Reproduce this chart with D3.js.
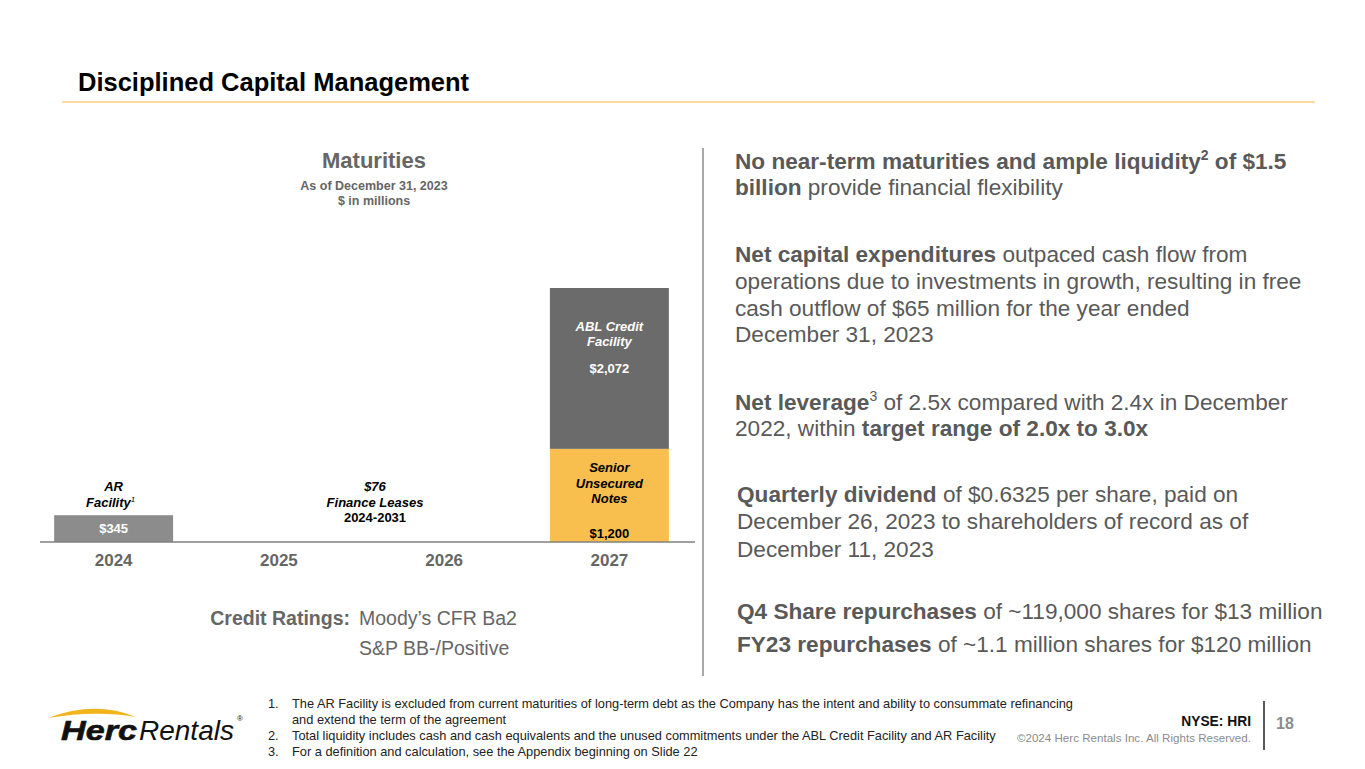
<!DOCTYPE html>
<html><head><meta charset="utf-8">
<script src="https://cdn.jsdelivr.net/npm/d3@7/dist/d3.min.js"></script>
<style>
html,body{margin:0;padding:0;background:#fff;}
svg{display:block;}
.n{font-family:"Liberation Sans Narrow","Arial Narrow","Liberation Sans",Arial,sans-serif;}
.a{font-family:"Liberation Sans",Arial,Helvetica,sans-serif;}
</style></head>
<body>
<svg id="c" width="1365" height="769"></svg>
<script>
// ---- data ----
const years = ["2024", "2025", "2026", "2027"];
const arFacility = [345, 0, 0, 0];
const seniorNotes = [0, 0, 0, 1200];
const ablCredit = [0, 0, 0, 2072];
const financeLeasesTotal = 76;
const seriesKeys = ["ar", "senior", "abl"];
const seriesColors = {ar: "#8c8c8c", senior: "#f8bf4f", abl: "#6b6b6b"};

const rows = years.map((y, i) => ({year: y, ar: arFacility[i], senior: seniorNotes[i], abl: ablCredit[i]}));

const svg = d3.select("#c");

// ---- header ----
svg.append("text").attr("class","a").attr("x",78).attr("y",91)
  .attr("font-size",25.5).attr("font-weight","bold").attr("fill","#000")
  .text("Disciplined Capital Management");
svg.append("line").attr("x1",62).attr("x2",1315).attr("y1",102).attr("y2",102)
  .attr("stroke","#f5b942").attr("stroke-width",1.2);

// ---- chart ----
const x = d3.scaleBand().domain(years).range([31, 692]).paddingInner(0.28).paddingOuter(0.14);
const y = d3.scaleLinear().domain([0, 3272]).range([542, 288]);

const stack = d3.stack().keys(seriesKeys)(rows);
const g = svg.append("g");
stack.forEach(layer => {
  g.selectAll(null).data(layer.filter(d => d[1] - d[0] > 0)).enter().append("rect")
    .attr("x", d => x(d.data.year))
    .attr("width", x.bandwidth())
    .attr("y", d => y(d[1]))
    .attr("height", d => y(d[0]) - y(d[1]))
    .attr("fill", seriesColors[layer.key]);
});

// axis
const axis = svg.append("g").attr("transform","translate(0,542)")
  .call(d3.axisBottom(x).tickSize(0).tickPadding(12));
axis.select(".domain").attr("d","M40,0H695").attr("stroke","#808080").attr("stroke-width",1.5);
axis.selectAll(".tick text").attr("class","n").attr("font-size",17).attr("font-weight","bold").attr("fill","#666");

// chart titles
const cx = 374;
svg.append("text").attr("class","n").attr("x",cx).attr("y",168).attr("text-anchor","middle")
  .attr("font-size",22).attr("font-weight","bold").attr("fill","#666").text("Maturities");
svg.append("text").attr("class","n").attr("x",cx).attr("y",190).attr("text-anchor","middle")
  .attr("font-size",12.5).attr("font-weight","bold").attr("fill","#666").text("As of December 31, 2023");
svg.append("text").attr("class","n").attr("x",cx).attr("y",205).attr("text-anchor","middle")
  .attr("font-size",12.5).attr("font-weight","bold").attr("fill","#666").text("$ in millions");

function label(xp, yp, txt, opts) {
  return svg.append("text").attr("class","n").attr("x",xp).attr("y",yp).attr("text-anchor","middle")
    .attr("font-size",13).attr("font-weight","bold").attr("fill",opts.fill||"#000")
    .attr("font-style",opts.italic?"italic":"normal").text(txt);
}
const fmt = v => "$" + d3.format(",")(v);
const cAR = x("2024") + x.bandwidth()/2;
const c27 = x("2027") + x.bandwidth()/2;
const cLease = 375;

label(cAR, y(arFacility[0]/2) + 4, fmt(arFacility[0]), {fill:"#fff"});
label(cAR, y(arFacility[0]) - 24, "AR", {italic:true});
const fac = label(cAR - 3, y(arFacility[0]) - 8, "Facility", {italic:true});
fac.append("tspan").attr("font-size",8).attr("dy",-5).attr("font-weight","normal").text("1");

label(cLease, 491, fmt(financeLeasesTotal), {italic:true});
label(cLease, 507, "Finance Leases", {italic:true});
label(cLease, 522, "2024-2031", {});

const sTop = y(seniorNotes[3]);
label(c27, sTop + 23, "Senior", {italic:true});
label(c27, sTop + 39, "Unsecured", {italic:true});
label(c27, sTop + 54, "Notes", {italic:true});
label(c27, 538, fmt(seniorNotes[3]), {});

const aTop = y(seniorNotes[3] + ablCredit[3]);
label(c27, aTop + 43, "ABL Credit", {italic:true, fill:"#fff"});
label(c27, aTop + 58, "Facility", {italic:true, fill:"#fff"});
label(c27, aTop + 85, fmt(ablCredit[3]), {fill:"#fff"});

// credit ratings
svg.append("text").attr("class","a").attr("x",350).attr("y",625).attr("text-anchor","end")
  .attr("font-size",19.5).attr("font-weight","bold").attr("fill","#666").text("Credit Ratings:");
svg.append("text").attr("class","a").attr("x",359).attr("y",625)
  .attr("font-size",19.5).attr("fill","#666").text("Moody\u2019s CFR Ba2");
svg.append("text").attr("class","a").attr("x",359).attr("y",655)
  .attr("font-size",19.5).attr("fill","#666").text("S&P BB-/Positive");

// divider
svg.append("line").attr("x1",703).attr("x2",703).attr("y1",148).attr("y2",676)
  .attr("stroke","#8c8c8c").attr("stroke-width",1.5);

// ---- right bullets ----
const bullets = [
  {x:735, y:169, parts:[["b","No near-term maturities and ample liquidity"],["sup","2"],["b"," of $1.5"]]},
  {x:735, y:195, parts:[["b","billion"],["r"," provide financial flexibility"]]},
  {x:735, y:262, parts:[["b","Net capital expenditures"],["r"," outpaced cash flow from"]]},
  {x:735, y:289, parts:[["r","operations due to investments in growth, resulting in free"]]},
  {x:735, y:316, parts:[["r","cash outflow of $65 million for the year ended"]]},
  {x:735, y:342, parts:[["r","December 31, 2023"]]},
  {x:735, y:410, parts:[["b","Net leverage"],["sup","3"],["r"," of 2.5x compared with 2.4x in December"]]},
  {x:735, y:436, parts:[["r","2022, within "],["b","target range of 2.0x to 3.0x"]]},
  {x:737, y:502, parts:[["b","Quarterly dividend"],["r"," of $0.6325 per share, paid on"]]},
  {x:737, y:529, parts:[["r","December 26, 2023 to shareholders of record as of"]]},
  {x:737, y:557, parts:[["r","December 11, 2023"]]},
  {x:737, y:619, parts:[["b","Q4 Share repurchases"],["r"," of ~119,000 shares for $13 million"]]},
  {x:737, y:652, parts:[["b","FY23 repurchases"],["r"," of ~1.1 million shares for $120 million"]]}
];
bullets.forEach(bl => {
  const t = svg.append("text").attr("class","a").attr("x",bl.x).attr("y",bl.y)
    .attr("font-size",22.6).attr("fill","#595959");
  let afterSup = false;
  bl.parts.forEach(p => {
    const ts = t.append("tspan").text(p[1]);
    if (p[0] === "b") ts.attr("font-weight","bold");
    if (p[0] === "sup") { ts.attr("font-size",14).attr("dy",-9).attr("font-weight", bl.y === 410 ? "normal" : "bold"); afterSup = true; }
    else if (afterSup) { ts.attr("dy",9); afterSup = false; }
  });
});

// ---- footnotes ----
const notes = [
  ["1.", "The AR Facility is excluded from current maturities of long-term debt as the Company has the intent and ability to consummate refinancing"],
  ["", "and extend the term of the agreement"],
  ["2.", "Total liquidity includes cash and cash equivalents and the unused commitments under the ABL Credit Facility and AR Facility"],
  ["3.", "For a definition and calculation, see the Appendix beginning on Slide 22"]
];
notes.forEach((n, i) => {
  const yy = 708 + i*16;
  svg.append("text").attr("class","n").attr("x",268).attr("y",yy).attr("font-size",12.8).attr("fill","#222").text(n[0]);
  svg.append("text").attr("class","n").attr("x",292).attr("y",yy).attr("font-size",12.8).attr("fill","#222").text(n[1]);
});

// ---- footer right ----
svg.append("text").attr("class","a").attr("x",1251).attr("y",726).attr("text-anchor","end")
  .attr("font-size",13.8).attr("font-weight","bold").attr("fill","#111").text("NYSE: HRI");
svg.append("text").attr("class","a").attr("x",1251).attr("y",742).attr("text-anchor","end")
  .attr("font-size",11.6).attr("fill","#8c8c8c").text("\u00a92024 Herc Rentals Inc.  All Rights Reserved.");
svg.append("line").attr("x1",1264).attr("x2",1264).attr("y1",701).attr("y2",750)
  .attr("stroke","#222").attr("stroke-width",1.5);
svg.append("text").attr("class","a").attr("x",1276).attr("y",729)
  .attr("font-size",16).attr("font-weight","bold").attr("fill","#8c8c8c").text("18");

// ---- logo ----
svg.append("path").attr("d","M48,718 Q95,700 136,717 Q95,710 48,718 Z").attr("fill","#f2b41c");
svg.append("text").attr("class","a").attr("transform","translate(61,740) scale(1.22,1)")
  .attr("font-size",28).attr("font-style","italic").attr("font-weight","bold").attr("fill","#111")
  .attr("stroke","#111").attr("stroke-width",0.6).text("Herc");
svg.append("text").attr("class","a").attr("x",139).attr("y",740)
  .attr("font-size",28).attr("font-style","italic").attr("fill","#111").text("Rentals");
svg.append("text").attr("class","a").attr("x",237).attr("y",721).attr("font-size",8).attr("fill","#111").text("\u00ae");
</script>
</body></html>
